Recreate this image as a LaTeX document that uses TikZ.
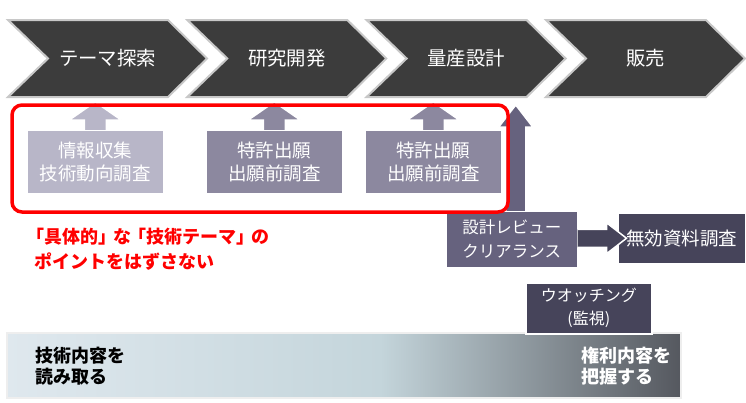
\documentclass[tikz,border=0pt]{standalone}
\usepackage{fontspec}
\setmainfont{Noto Sans CJK JP}
\usetikzlibrary{calc,shadows}
\definecolor{chev}{HTML}{3C3C3C}
\definecolor{chevline}{HTML}{C8C8C8}
\definecolor{boxA}{HTML}{B8B6C8}
\definecolor{boxB}{HTML}{8C889F}
\definecolor{boxC}{HTML}{66627E}
\definecolor{boxD}{HTML}{46445A}
\definecolor{barL}{HTML}{DFE8EE}
\definecolor{barM}{HTML}{C4D5DB}
\definecolor{barR}{HTML}{55585F}
\definecolor{barline}{HTML}{EEEEEE}
\newcommand\uparr[6]{%
  \path[blockarrow, fill=#2] ($(#1)+(-#3,0.8)$) -- ++(0,-#4-0.8) -- ++(-#5+#3,0)
    -- ++(#5,-#6) -- ++(#5,#6) -- ++(-#5+#3,0) -- ++(0,#4+0.8);}
\begin{document}
\begin{tikzpicture}[x=1pt,y=-1pt,
  chevron/.style={fill=chev, draw=chevline, line width=2pt, line join=miter},
  chevtext/.style={text=white, font=\fontsize{19.4}{21}\selectfont},
  box/.style={draw=white, line width=1.5pt, text=white, align=center, inner sep=0pt,
    drop shadow={shadow xshift=1.2pt, shadow yshift=-1.5pt, opacity=0.3}},
  blockarrow/.style={draw=white, line width=1.5pt, line join=miter},
]
\useasboundingbox (0,0) rectangle (746,402);
\fill[white] (0,0) rectangle (746,402);

% chevrons
\foreach \L/\t/\n in {8/テーマ探索/c1, 187.3/研究開発/c2, 366.6/量産設計/c3, 546/販売/c4}{
  \draw[chevron] (\L,20) -- ++(160,0) -- ++(39,38.5) -- ++(-39,38.5) -- ++(-160,0) -- ++(40,-38.5) -- cycle;
  \node[chevtext] (\n) at (\L+99.5,58.5) {\t};
}

% boxes 1-3 with up arrows
\node[box, fill=boxA, minimum width=137, minimum height=64, anchor=north west,
  font=\fontsize{18.5}{23}\selectfont] (b1) at (26,129) {情報収集\\技術動向調査};
\uparr{b1.north}{boxA}{11}{9}{26}{18}
\node[box, fill=boxB, minimum width=137, minimum height=64, anchor=north west,
  font=\fontsize{18.5}{23}\selectfont] (b2) at (205,129) {特許出願\\出願前調査};
\uparr{b2.north}{boxB}{11}{9}{26}{18}
\node[box, fill=boxB, minimum width=137, minimum height=64, anchor=north west,
  font=\fontsize{18.5}{23}\selectfont] (b3) at (364,129) {特許出願\\出願前調査};
\uparr{b3.north}{boxB}{11}{9}{26}{18}

% box 4 with up arrow
\node[box, fill=boxC, minimum width=132, minimum height=57, anchor=north west,
  font=\fontsize{16.5}{24}\selectfont] (b4) at (445,210) {設計レビュー\\クリアランス};
\coordinate (a4) at ($(b4.north)+(4,0)$);
\uparr{a4}{boxC}{10}{83}{17}{22}

% red frame
\draw[red, line width=3.5pt, rounded corners=10pt] (12,105) rectangle (508,212);
\node[text=red, font=\bfseries\fontsize{18}{25}\selectfont, align=left, anchor=west, inner sep=0pt]
  (note) at (34,249.5) {\kern-8pt「具体的」\kern-3pt な\kern-3pt「技術テーマ」\kern-3pt の\\ポイントをはずさない};

% box 5 and right arrow
\node[box, fill=boxD, minimum width=128, minimum height=51, anchor=north west,
  font=\fontsize{18.5}{22}\selectfont] (b5) at (617,212) {無効資料調査};
\coordinate (r0) at (b4.east |- b5.west);
\path[blockarrow, fill=boxD] ($(r0)+(-0.8,-9)$) -- ++(28.8,0) -- ++(0,-6.5) -- ++(20,15.5)
  -- ++(-20,15.5) -- ++(0,-6.5) -- ++(-28.8,0);

% bottom bar
\shade[left color=barL, right color=barM] (7,333) rectangle (381,398);
\shade[left color=barM, right color=barR] (380,333) rectangle (681,398);
\draw[barline, line width=1.5pt] (7,333) rectangle (681,398);
\node[anchor=west, align=left, inner sep=0pt, font=\bfseries\fontsize{18}{21}\selectfont]
  (lt) at (35,366.5) {技術内容を\\読み取る};
\node[anchor=west, align=left, inner sep=0pt, text=white, font=\bfseries\fontsize{18}{21}\selectfont]
  (rt) at (581,366.5) {権利内容を\\把握する};

% box 6
\node[box, fill=boxD, minimum width=126, minimum height=51, anchor=north west,
  font=\fontsize{16}{23}\selectfont] (b6) at (525,282) {ウオッチング\\(監視)};
\end{tikzpicture}
\end{document}
